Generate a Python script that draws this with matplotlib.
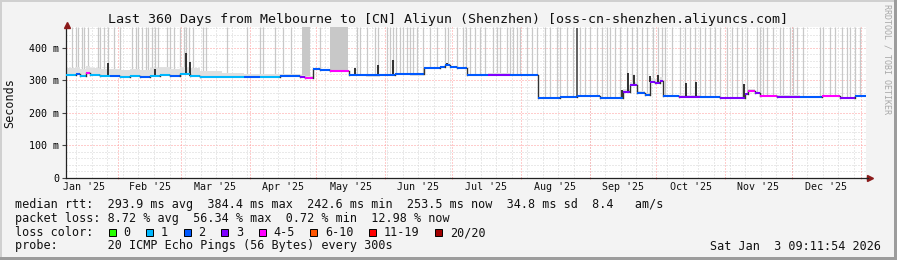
#!/usr/bin/env python3
import datetime as dt
import numpy as np
import matplotlib
matplotlib.use("Agg")
import matplotlib.pyplot as plt
import matplotlib.dates as mdates
from matplotlib.lines import Line2D
from matplotlib.patches import Rectangle

plt.rcParams['font.family'] = ['DejaVu Sans Mono']

# ---- DATA ----
start = dt.datetime(2025, 1, 8, 9, 11, 54)
span_days = 360

# median rtt (ms) as steps, day offsets from start; loss level = index in loss_labels
median_day = [0, 4.3, 6.5, 8.8, 11.0, 15.5, 20, 24.5, 29.0, 33.5,
              38.0, 42.5, 47.0, 51.5, 56.0, 60.5, 70, 80, 87.5, 96.5,
              105.4, 107.7, 111.3, 114.4, 118.9, 127.5, 135, 141.4, 148.2, 155,
              161.2, 168.4, 170.7, 172.9, 176, 180.6, 190, 200, 212.5, 222.4,
              230.0, 240.4, 250.7, 253.9, 257.0, 260.6, 262.9, 265.1, 267.3, 268.6,
              276, 285.4, 294.4, 305.6, 306.9, 310.1, 312.4, 320, 330.3, 340,
              348.3, 355.1]
median_ms = [317, 320, 314, 323, 317, 314, 315, 311, 314, 311,
             314, 317, 314, 320, 314, 311, 312, 311, 311, 314,
             311, 308, 335, 332, 329, 317, 316, 317, 320, 319,
             338, 341, 348, 341, 338, 317, 318, 317, 246, 249,
             252, 246, 265, 286, 262, 255, 295, 292, 298, 252,
             250, 249, 246, 258, 268, 262, 252, 250, 249, 252,
             246, 252]
median_loss = [1, 2, 1, 4, 1, 1, 2, 1, 1, 2,
               1, 1, 2, 1, 1, 1, 1, 2, 1, 2,
               3, 4, 2, 2, 4, 2, 2, 2, 2, 2,
               2, 2, 2, 2, 2, 2, 3, 2, 2, 2,
               2, 2, 3, 3, 2, 2, 3, 3, 3, 2,
               3, 2, 3, 3, 4, 3, 4, 3, 2, 4,
               3, 2]
smoke_up = [22, 22, 22, 22, 22, 20, 20, 20, 22, 22,
            25, 25, 22, 22, 25, 18, 12, 10, 8, 6,
            6, 6, 4, 4, 4, 4, 4, 4, 4, 4,
            4, 4, 4, 4, 4, 4, 4, 4, 4, 4,
            4, 4, 10, 10, 6, 6, 12, 12, 12, 4,
            4, 4, 4, 4, 6, 4, 4, 4, 4, 4,
            4, 4]

# dark smoke spikes (day, peak ms)
spike_day = [18.7, 40.2, 54.2, 56.0, 130.2, 140.5, 147.3, 171.3, 230.0,
             250.3, 252.9, 255.6, 262.9, 266.5, 279.1, 283.6, 305.1]
spike_ms = [354, 336, 385, 357, 338, 348, 363, 354, 460,
            270, 323, 318, 315, 318, 292, 295, 289]

# light grey loss streaks reaching the top
streak_day = [2.9, 4.3, 5.6, 7.0, 8.3, 9.7, 14.2, 15.5, 16.9, 18.7, 21.4, 24.5,
              29.9, 31.3, 32.6, 34.4, 35.8, 37.1, 38.9, 40.2, 41.6, 45.6, 47.0,
              48.4, 51.5, 52.9, 54.2, 55.5, 57.3, 61.8, 63.2, 72.6, 81.6, 87.5,
              88.8, 94.2, 97.8, 101.4, 114.4, 131.1, 132.4, 135.6, 139.2, 140.5,
              144.6, 145.9, 147.3, 148.6, 150.4, 151.8, 153.6, 154.9, 156.3,
              158.1, 160.8, 163.9, 167.1, 170.7, 172.0, 176.1, 178.8, 180.1,
              181.9, 184.2, 186.4, 188.7, 192.3, 194.1, 195.4, 198.6, 199.9,
              201.3, 203.1, 204.4, 207.5, 209.8, 212.0, 215.6, 217.9, 221.0,
              222.4, 225.5, 228.2, 231.4, 233.6, 235.9, 239.0, 241.3, 243.5,
              244.9, 247.1, 249.4, 252.5, 254.8, 257.0, 259.3, 261.5, 264.2,
              266.5, 268.3, 269.6, 272.8, 276.4, 278.6, 280.9, 283.1, 285.4,
              287.6, 289.9, 292.1, 294.4, 297.5, 299.8, 302.0, 304.3, 306.5,
              311.0, 312.4, 313.7, 315.5, 318.2, 321.3, 322.7, 325.8, 327.2,
              329.0, 331.7, 339.3, 340.7, 343.8, 346.1, 349.2, 351.5, 352.8,
              355.1, 357.4]
block_start = [106.4, 118.9]
block_end = [109.9, 127.0]

loss_labels = ["0", "1", "2", "3", "4-5", "6-10", "11-19", "20/20"]
loss_colors = ["#26ff00", "#00b8ff", "#0059ff", "#7e00ff",
               "#ff00ff", "#ff5500", "#ff0000", "#a10000"]

y_ticks = [0, 100, 200, 300, 400]
y_labels = ["0", "100 m", "200 m", "300 m", "400 m"]

title = "Last 360 Days from Melbourne to [CN] Aliyun (Shenzhen) [oss-cn-shenzhen.aliyuncs.com]"
line_rtt = "median rtt:  293.9 ms avg  384.4 ms max  242.6 ms min  253.5 ms now  34.8 ms sd  8.4   am/s"
line_loss = "packet loss: 8.72 % avg  56.34 % max  0.72 % min  12.98 % now"
line_probe = "probe:       20 ICMP Echo Pings (56 Bytes) every 300s"
stamp = "Sat Jan  3 09:11:54 2026"

# ---- FIGURE ----
W, H = 897, 260
fig = plt.figure(figsize=(W / 100, H / 100), dpi=100, facecolor="#f3f3f3")

def fx(x):
    return x / W

def fy(y):
    return 1 - y / H

ymax = 464.6
ax = fig.add_axes([fx(66), fy(178), 800 / W, 151 / H])
ax.set_facecolor("white")
t0 = mdates.date2num(start)
ax.set_xlim(t0, t0 + span_days)
ax.set_ylim(0, ymax)

# grid (behind the data)
for v in np.arange(20, ymax, 20):
    major = v % 100 == 0
    ax.axhline(v, color="#ff9a9a" if major else "#d4d4d4", lw=0.72,
               ls=(0, (1, 2)), zorder=0)
first_monday = mdates.date2num(dt.datetime(2025, 1, 13))
weeks = [first_monday + 7 * k for k in range(52)]
for w in weeks:
    ax.axvline(w, color="#d4d4d4", lw=0.72, ls=(0, (1, 2)), zorder=0)
month_starts = [mdates.date2num(dt.datetime(2025 + (m // 12), m % 12 + 1, 1))
                for m in range(1, 13)]
for m in month_starts:
    ax.axvline(m, color="#ff9a9a", lw=0.72, ls=(0, (1, 2)), zorder=0.5)

# loss streaks and blocks
mday = np.array(median_day)
mms = np.array(median_ms)

def base_at(d):
    i = np.searchsorted(mday, d, side="right") - 1
    return mms[max(i, 0)]

sx = t0 + np.array(streak_day)
ax.vlines(sx, [base_at(d) for d in streak_day], ymax, color="#c8c8c8",
          lw=0.9, zorder=1)
for a, b in zip(block_start, block_end):
    ax.fill_between([t0 + a, t0 + b], [base_at(a)] * 2, ymax, color="#c8c8c8",
                    lw=0, zorder=1)

# smoke around the median
edges = np.append(mday, span_days)
xs = np.repeat(t0 + edges, 2)[1:-1]
lo = np.repeat(mms - 4, 2)
hi = np.repeat(mms + np.array(smoke_up), 2)
ax.fill_between(xs, lo, hi, color="#e0e0e0", lw=0, zorder=1.5)

# dark spikes (the tallest one is a thin grey streak)
spike_col = ["#555555" if p > 450 else "#222222" for p in spike_ms]
ax.vlines(t0 + np.array(spike_day), [base_at(d) for d in spike_day], spike_ms,
          color=spike_col, lw=1.3, zorder=2)

# median line, coloured by loss
for i in range(len(mday)):
    x1 = t0 + edges[i]
    x2 = t0 + edges[i + 1]
    ax.plot([x1, x2], [mms[i], mms[i]], color=loss_colors[median_loss[i]],
            lw=1.5, solid_capstyle="butt", zorder=3)
    if i + 1 < len(mday):
        ax.plot([x2, x2], [mms[i], mms[i + 1]], color="#333333", lw=1.0, zorder=3)

# axes
for s in ["top", "right"]:
    ax.spines[s].set_visible(False)
for s in ["left", "bottom"]:
    ax.spines[s].set_color("#222222")
    ax.spines[s].set_linewidth(0.9)
ax.set_yticks(y_ticks)
ax.set_yticklabels(y_labels)
ax.tick_params(axis="y", length=3, width=0.8, color="#444444", labelsize=7.2, pad=2)
ax.set_xticks(month_starts)
ax.set_xticklabels([])
ax.tick_params(axis="x", length=2, width=0.8, color="#ff9a9a", direction="inout")
month_mid = [mdates.date2num(dt.datetime(2025, m, 1)) +
             ((dt.datetime(2025 + m // 12, m % 12 + 1, 1) - dt.datetime(2025, m, 1)).days / 2)
             for m in range(1, 13)]
for m, xm in enumerate(month_mid):
    lbl = dt.datetime(2025, m + 1, 1).strftime("%b '%y")
    ax.text(xm, -0.06, lbl, transform=ax.get_xaxis_transform(), ha="center",
            va="center", fontsize=7.2, color="#111111")

# axis arrows
fig.add_artist(Line2D([fx(67)], [fy(24.5)], marker="^", ms=4.5, color="#8b1a1a",
                      transform=fig.transFigure))
fig.add_artist(Line2D([fx(870)], [fy(178)], marker=">", ms=4.5, color="#8b1a1a",
                      transform=fig.transFigure))
fig.add_artist(Line2D([fx(866), fx(868)], [fy(178), fy(178)], color="#222222",
                      lw=0.9, transform=fig.transFigure))

# texts
fig.text(fx(448), fy(19), title, ha="center", va="center", fontsize=9.6, color="#111111")
fig.text(fx(10), fy(103), "Seconds", rotation=90, ha="center", va="center",
         fontsize=8.5, color="#111111")
fig.text(fx(887), fy(59), "RRDTOOL / TOBI OETIKER", rotation=270, ha="center",
         va="center", fontsize=6, color="#a8a8a8")

left = 14.5
cw = 7.14
rows = [204.7, 218.7, 232.7, 246.0]
fig.text(fx(left), fy(rows[0]), line_rtt, ha="left", va="center", fontsize=8.5, color="#111111")
fig.text(fx(left), fy(rows[1]), line_loss, ha="left", va="center", fontsize=8.5, color="#111111")
fig.text(fx(left), fy(rows[2]), "loss color:", ha="left", va="center", fontsize=8.5, color="#111111")
fig.text(fx(left), fy(rows[3]), line_probe, ha="left", va="center", fontsize=8.5, color="#111111")
fig.text(fx(881), fy(rows[3]), stamp, ha="right", va="center", fontsize=8.5, color="#111111")

col = 13.2
for lbl, c in zip(loss_labels, loss_colors):
    bx = left + col * cw
    fig.add_artist(Rectangle((fx(bx), fy(rows[2] + 3.6)), 7 / W, 7 / H, facecolor=c,
                             edgecolor="black", lw=0.7, transform=fig.transFigure))
    fig.text(fx(left + (col + 2.05) * cw), fy(rows[2]), lbl, ha="left", va="center",
             fontsize=8.5, color="#111111")
    col += 2.05 + len(lbl) + 2.2

# 3d frame
fig.add_artist(Rectangle((0, fy(2)), 1, 2 / H, color="#d0d0d0", lw=0, transform=fig.transFigure))
fig.add_artist(Rectangle((0, 0), 2 / W, 1, color="#d0d0d0", lw=0, transform=fig.transFigure))
fig.add_artist(Rectangle((0, 0), 1, 3 / H, color="#9c9c9c", lw=0, transform=fig.transFigure))
fig.add_artist(Rectangle((fx(894), 0), 3 / W, 1, color="#9c9c9c", lw=0, transform=fig.transFigure))

fig.savefig("out.png", dpi=100, facecolor=fig.get_facecolor())
